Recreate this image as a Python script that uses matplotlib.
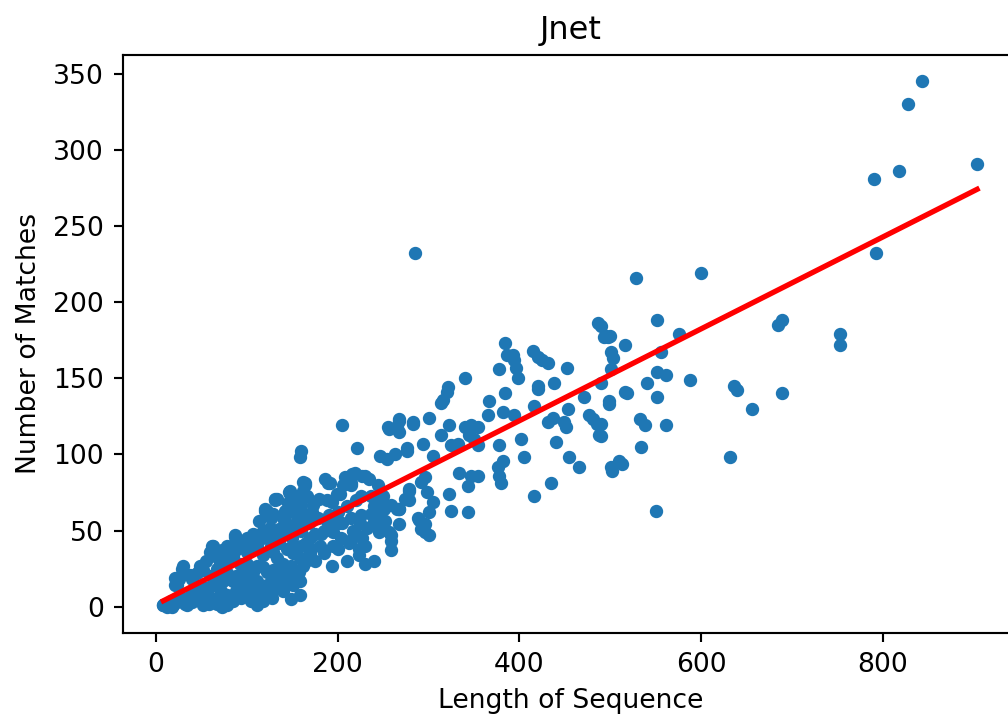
import numpy as np
import matplotlib
matplotlib.use("Agg")
import matplotlib.pyplot as plt

# values (sequence length, matches)
seq_len = [
    # top right outliers
    843, 828, 904, 818, 790, 793,
    # right part
    528, 600, 552, 576, 490, 493, 498, 516, 501, 503, 556, 501, 490, 551,
    562, 540, 588, 685, 689, 753, 753, 636, 640, 516, 518, 552, 499, 689,
    656, 533, 538, 561, 490, 490, 534, 632, 513, 502, 550,
    # middle
    487, 495, 500, 384, 386, 393, 394, 396, 398, 378, 415, 420, 425, 431,
    452, 340, 321, 320, 316, 314, 420, 421, 438, 384, 367, 365, 382, 394,
    416, 300, 268, 255, 265, 283, 323, 340, 347, 354, 314, 345, 350, 294,
    325, 332, 354, 378, 402, 431, 437, 449, 451, 471, 453, 477, 481, 486,
    488, 499, 440, 246, 254, 263, 276, 305, 405, 455, 382, 376, 378, 380,
    466, 501, 510, 296, 292, 278, 274, 267, 334, 347, 354, 343, 323, 435,
    416, 325, 343, 305, 301, 288, 292, 301, 251, 265, 244, 250, 240, 248,
    257, 259,
    # left-middle
    285, 205, 256, 267, 268, 283, 160, 158, 221, 276, 219, 230, 189, 147,
    164, 166, 206, 215, 122, 133, 149, 160, 173, 199, 188, 226, 237, 248,
    259, 267, 278, 278, 298, 113, 127, 142, 188, 201, 215, 226, 239, 252,
    267, 290, 296, 296, 109, 117, 127, 149, 160, 171, 195, 204, 215, 217,
    223, 230, 245, 250, 259, 259,
    # dense lower left, above the line
    162, 162, 160, 147, 131, 120, 129, 140, 151, 158, 135, 107, 114, 124,
    111, 87, 78, 63, 59, 89, 100, 76, 85, 30, 48, 52, 37, 25, 23, 67, 74, 81,
    40, 45, 55, 65, 70, 80, 95, 100, 105, 118, 125, 130, 142, 145, 152, 155,
    # dense lower left, below the line
    118, 129, 144, 151, 159, 162, 155, 144, 137, 129, 122, 111, 107, 96,
    100, 93, 85, 111, 122, 126, 115, 135, 144, 151, 159, 159, 63, 71, 78,
    56, 45, 38, 30, 23, 16, 8, 12, 34, 49, 60, 78, 85, 93, 100, 52, 73, 111,
    111, 140, 150, 160, 165, 155, 147, 135, 163, 165,
    164, 186, 192, 146, 131, 120, 124, 208, 216, 227, 234, 245, 203, 194,
    179, 215, 237, 239, 227, 223, 194, 157, 149, 128, 113, 69, 73, 58, 32,
    18, 8, 29, 21, 21, 62, 73, 87, 84,
    170, 180, 185, 175, 200, 210, 205, 230, 240, 212,
    20, 26, 40, 44, 55, 62, 67, 82, 88, 95, 105, 105, 118, 128, 133, 140,
    148, 152, 140, 133, 118, 100, 92, 88, 78, 70, 60,
    168, 172, 178, 182, 190, 196, 200, 210, 220, 225, 232, 240, 248, 220,
    195, 185, 170, 175, 165,
]
matches = [
    345, 330, 291, 286, 281, 232,
    216, 219, 188, 179, 184, 177, 177, 172, 167, 163, 167, 156, 147, 154,
    152, 147, 149, 185, 188, 179, 172, 145, 142, 141, 140, 138, 133, 140,
    130, 123, 119, 119, 112, 120, 105, 98, 94, 89, 63,
    186, 178, 178, 173, 165, 165, 162, 157, 150, 156, 168, 164, 162, 160,
    157, 150, 144, 141, 136, 134, 145, 143, 147, 140, 135, 126, 128, 126,
    132, 124, 123, 118, 118, 120, 119, 118, 119, 118, 113, 113, 110, 107,
    106, 107, 106, 106, 110, 121, 124, 121, 118, 138, 130, 126, 123, 120,
    113, 135, 108, 99, 97, 100, 102, 99, 98, 98, 96, 92, 86, 81,
    92, 92, 96, 85, 82, 76, 71, 64, 88, 86, 86, 79, 74, 81,
    73, 63, 62, 69, 62, 58, 51, 47, 64, 64, 80, 73, 59, 54,
    49, 43,
    232, 119, 117, 122, 115, 121, 102, 98, 104, 104, 88, 86, 81, 74,
    80, 73, 80, 81, 63, 71, 64, 67, 67, 74, 70, 73, 73, 69,
    67, 64, 77, 70, 75, 56, 58, 56, 56, 55, 58, 60, 60, 56,
    54, 57, 54, 49, 47, 45, 40, 38, 40, 38, 49, 45, 44, 50,
    38, 40, 49, 54, 47, 37,
    82, 76, 70, 76, 70, 63, 61, 58, 62, 62, 51, 48, 45, 45,
    40, 46, 40, 40, 36, 38, 36, 34, 33, 27, 27, 24, 21, 18, 14, 25, 17, 18,
    18, 22, 30, 33, 28, 30, 40, 45, 40, 50, 52, 45, 63, 68, 72, 56,
    34, 36, 38, 35, 32, 27, 23, 23, 27, 24, 23, 27, 23, 23,
    19, 14, 17, 17, 14, 10, 9, 19, 17, 14, 17, 8, 14, 10, 8,
    8, 8, 8, 6, 6, 4, 1, 0, 1, 4, 4, 1, 4, 6, 8, 1, 0, 1,
    7, 48, 45, 50, 42, 38, 52, 42, 55, 60,
    81, 84, 81, 75, 71, 64, 61, 85, 87, 86, 84, 73, 74, 69,
    71, 80, 61, 54, 45, 34, 27, 23, 27, 19, 12, 4, 1, 2, 2,
    0, 1, 25, 19, 14, 40, 37, 47, 40,
    45, 40, 50, 30, 38, 30, 55, 28, 30, 42,
    2, 4, 3, 12, 12, 6, 2, 4, 10, 12, 12, 4, 4, 6, 12, 10,
    5, 22, 28, 32, 26, 28, 28, 20, 22, 20, 20,
    55, 62, 58, 48, 60, 55, 62, 66, 70, 55, 52, 66, 62, 48,
    40, 35, 35, 48, 30,
]

# regression line
fit_slope = 0.3015
fit_intercept = 1.5

x = np.array(seq_len)
y = np.array(matches)

fig = plt.figure(figsize=(1008 / 192, 715 / 192), dpi=192)
ax = fig.add_axes([0.1217, 0.1147, 0.888, 0.8084])

ax.scatter(x, y, s=16, color="#1f77b4")
line_x = np.array([x.min(), x.max()])
ax.plot(line_x, fit_slope * line_x + fit_intercept, color="red", linewidth=2)

ax.set_title("Jnet")
ax.set_xlabel("Length of Sequence")
ax.set_ylabel("Number of Matches")

fig.savefig("out.png", dpi=192)
